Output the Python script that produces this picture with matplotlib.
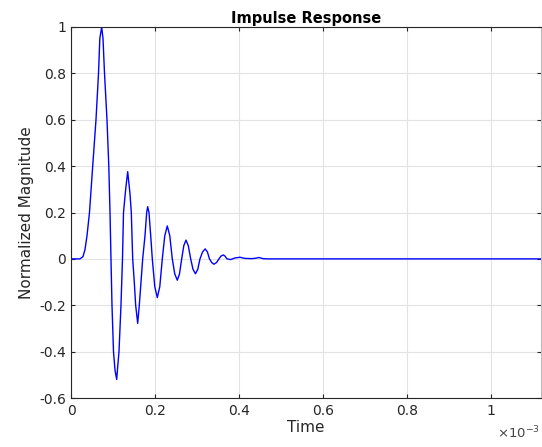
import numpy as np
import matplotlib
matplotlib.use("Agg")
import matplotlib.pyplot as plt

plt.rcParams['font.family'] = ['DejaVu Sans']
plt.rcParams['axes.unicode_minus'] = False

# Impulse response samples (time in milliseconds, normalized magnitude)
time_ms = [
    0.0, 0.0214, 0.0286, 0.0333, 0.0381, 0.0440, 0.0517, 0.0595, 0.0655,
    0.0686, 0.0731, 0.0762, 0.0798, 0.0857, 0.0900, 0.0929, 0.0952,
    0.0976, 0.1012, 0.1048, 0.1088, 0.1119, 0.1143, 0.1190, 0.1226,
    0.1250, 0.1302, 0.1350, 0.1405, 0.1436, 0.1469,
    0.1507, 0.1540, 0.1588, 0.1626, 0.1667, 0.1707,
    0.1762, 0.1802, 0.1826, 0.1857, 0.1898, 0.1936,
    0.1995, 0.2055, 0.2114, 0.2174,
    0.2233, 0.2293, 0.2352, 0.2412,
    0.2471, 0.2531, 0.2583, 0.2636,
    0.2686, 0.2738, 0.2793, 0.2850,
    0.2905, 0.2964, 0.3019, 0.3071,
    0.3133, 0.3195, 0.3248, 0.3298,
    0.3352, 0.3405, 0.3464, 0.3524,
    0.3571, 0.3626, 0.3667, 0.3714,
    0.3802, 0.3905, 0.4024, 0.4143, 0.4310, 0.4405, 0.4476, 0.4571,
    0.4690, 1.1190,
]
magnitude = [
    0.0, 0.0, 0.01, 0.04, 0.10, 0.20, 0.40, 0.60, 0.80,
    0.95, 1.00, 0.95, 0.80, 0.60, 0.40, 0.20, 0.0,
    -0.20, -0.40, -0.48, -0.52, -0.45, -0.40, -0.20, 0.0,
    0.20, 0.30, 0.376, 0.28, 0.20, 0.0,
    -0.10, -0.20, -0.278, -0.20, -0.10, 0.0,
    0.10, 0.20, 0.225, 0.20, 0.10, 0.0,
    -0.12, -0.167, -0.12, 0.0,
    0.10, 0.142, 0.10, 0.0,
    -0.065, -0.092, -0.065, 0.0,
    0.057, 0.081, 0.057, 0.0,
    -0.045, -0.064, -0.045, 0.0,
    0.03, 0.043, 0.03, 0.0,
    -0.016, -0.023, -0.016, 0.0,
    0.012, 0.017, 0.012, 0.0,
    -0.003, 0.004, 0.007, 0.002, 0.001, 0.003, 0.006, 0.001,
    0.0, 0.0,
]

x_ticks_ms = [0, 0.2, 0.4, 0.6, 0.8, 1.0]
x_tick_labels = ["0", "0.2", "0.4", "0.6", "0.8", "1"]
y_ticks = [-0.6, -0.4, -0.2, 0, 0.2, 0.4, 0.6, 0.8, 1.0]
y_tick_labels = ["-0.6", "-0.4", "-0.2", "0", "0.2", "0.4", "0.6", "0.8", "1"]

time_s = np.array(time_ms) * 1e-3

fig = plt.figure(figsize=(5.42, 4.47), dpi=100)
ax = fig.add_axes([0.131, 0.1096, 0.867, 0.830])

ax.plot(time_s, magnitude, color=(0, 0, 1), linewidth=1.0)

ax.set_xlim(0, 1.119e-3)
ax.set_ylim(-0.6, 1.0)
ax.set_xticks(np.array(x_ticks_ms) * 1e-3)
ax.set_xticklabels(x_tick_labels)
ax.set_yticks(y_ticks)
ax.set_yticklabels(y_tick_labels)

edge = '#262626'
ax.grid(True, color='#e3e3e3', linewidth=0.8)
ax.set_axisbelow(True)
for side in ['left', 'bottom', 'top']:
    ax.spines[side].set_color(edge)
    ax.spines[side].set_linewidth(0.8)
ax.spines['right'].set_color('#bdbdbd')
ax.spines['right'].set_linewidth(0.8)
ax.tick_params(direction='in', length=3, width=0.8, color=edge,
               labelcolor=edge, labelsize=10, top=True, right=True)
ax.tick_params(axis='x', pad=4)

ax.set_title("Impulse Response", fontsize=10.5, fontweight='bold',
             color='black', pad=3)
ax.set_xlabel("Time", fontsize=11, color=edge, labelpad=2)
ax.set_ylabel("Normalized Magnitude", fontsize=11, color=edge, labelpad=4)

fig.text(0.997, 0.012, r"$\times$10$^{-3}$", fontsize=9.5, color='#444444',
         ha='right', va='bottom')

fig.savefig("out.png", dpi=100)
